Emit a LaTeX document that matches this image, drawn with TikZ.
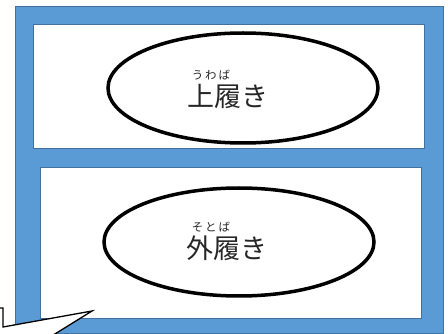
\documentclass[tikz,border=0pt]{standalone}
\usepackage{fontspec}
\newfontfamily\jpfont{Noto Sans CJK JP}
\usetikzlibrary{shapes.geometric}

\definecolor{shelfblue}{HTML}{5B9BD5}
\definecolor{shelfedge}{HTML}{41719C}

\begin{document}
\begin{tikzpicture}[
    x=1pt, y=-1pt,
    panel/.style={draw=shelfedge, fill=white, line width=0.8pt, anchor=north west, inner sep=0pt},
    tag/.style={ellipse, draw=black, line width=3.5pt, fill=white, inner sep=0pt},
    word/.style={font=\jpfont\fontsize{27}{27}\selectfont, text=black!85, inner sep=0pt},
    kana/.style={font=\jpfont\fontsize{11.5}{11.5}\selectfont, text=black!85, inner sep=0pt}
]
\useasboundingbox (0,0) rectangle (448,334);

% Shelf frame and panels
\node (frame) [panel, fill=shelfblue, minimum width=428pt, minimum height=327pt] at (15,6) {};
\node (upperpanel) [panel, minimum width=391pt, minimum height=124pt] at (33,24) {};
\node (lowerpanel) [panel, minimum width=381pt, minimum height=151pt] at (40,167) {};

% Labels
\node (uppertag) [tag, minimum width=270pt, minimum height=110pt] at (243,88) {};
\node (lowertag) [tag, minimum width=270pt, minimum height=108pt] at (239,242) {};

\node (uwabaki) [word] at (228,96) {上履き};
\node (sotobaki) [word] at (227,248) {外履き};
\node (uwaruby) [kana] at (211,75) {う\hspace{2pt}わ\hspace{2pt}ば};
\node (sotoruby) [kana] at (211,227) {そ\hspace{2pt}と\hspace{2pt}ば};

% Callout tail
\coordinate (c1) at (-5,308);
\coordinate (c2) at (3,308);
\coordinate (c3) at (3,327);
\coordinate (c4) at (92,311);
\coordinate (c5) at (42,342);
\fill[white] (c1) -- (c2) -- (c3) -- (c4) -- (c5) -- (-5,342) -- cycle;
\draw[line width=1.3pt, line join=miter] (c1) -- (c2) -- (c3) -- (c4) -- (c5);

\end{tikzpicture}
\end{document}
